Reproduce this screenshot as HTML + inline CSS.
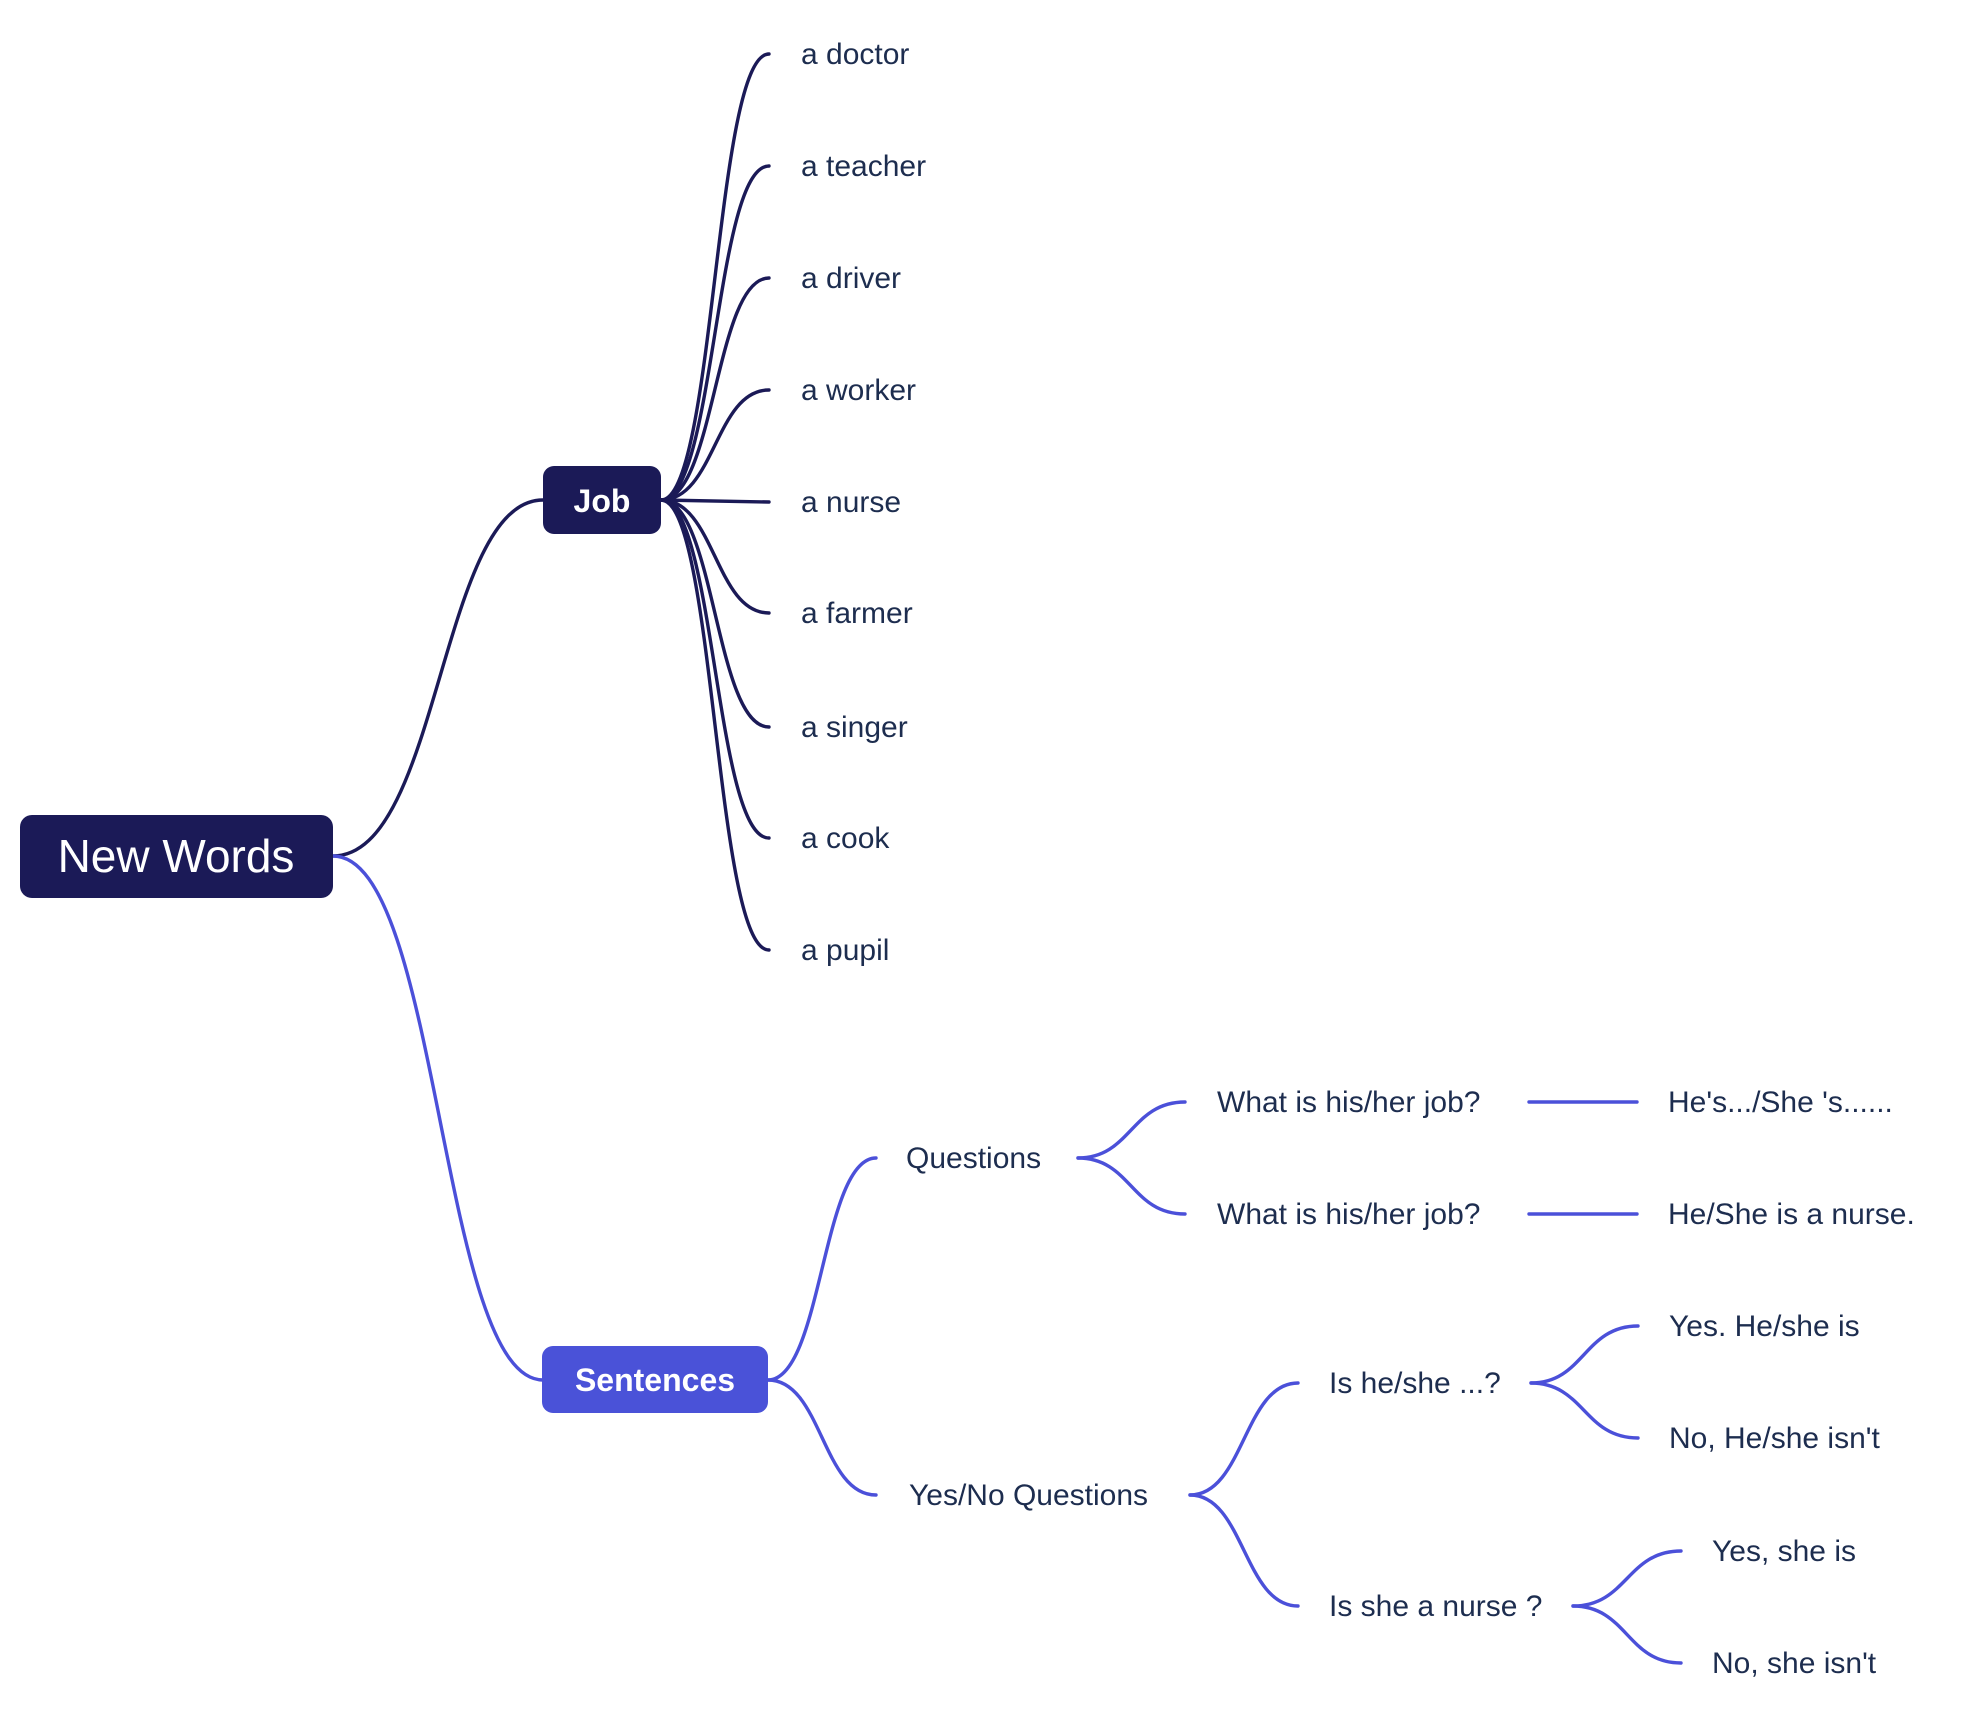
<!DOCTYPE html>
<html><head><meta charset="utf-8"><style>
html,body{margin:0;padding:0;background:#fff}
svg{display:block}
text{font-family:"Liberation Sans",sans-serif}
.l{font-size:30px;fill:#1d2d4f}
</style></head><body>
<svg width="1970" height="1712" viewBox="0 0 1970 1712" xmlns="http://www.w3.org/2000/svg">
<g fill="none" stroke-width="3.4" stroke-linecap="round">
<path d="M333 856 C440 856 440 500 543 500" stroke="#1b1a57"/>
<path d="M333 856 C440 856 440 1380 543 1380" stroke="#4b50d9"/>
<g stroke="#1b1a57">
<path d="M661 500 C715 500 715 54 769 54"/>
<path d="M661 500 C715 500 715 166 769 166"/>
<path d="M661 500 C715 500 715 278 769 278"/>
<path d="M661 500 C715 500 715 390 769 390"/>
<path d="M661 500 L769 502"/>
<path d="M661 500 C715 500 715 613 769 613"/>
<path d="M661 500 C715 500 715 727 769 727"/>
<path d="M661 500 C715 500 715 838 769 838"/>
<path d="M661 500 C715 500 715 950 769 950"/>
</g>
<g stroke="#4b50d9">
<path d="M768 1380 C822 1380 822 1158 876 1158"/>
<path d="M768 1380 C822 1380 822 1495 876 1495"/>
<path d="M1078 1158 C1131 1158 1131 1102 1185 1102"/>
<path d="M1078 1158 C1131 1158 1131 1214 1185 1214"/>
<path d="M1529 1102 L1637 1102"/>
<path d="M1529 1214 L1637 1214"/>
<path d="M1190 1495 C1244 1495 1244 1383 1298 1383"/>
<path d="M1190 1495 C1244 1495 1244 1606 1298 1606"/>
<path d="M1531 1383 C1584 1383 1584 1326 1638 1326"/>
<path d="M1531 1383 C1584 1383 1584 1438 1638 1438"/>
<path d="M1573 1606 C1627 1606 1627 1551 1681 1551"/>
<path d="M1573 1606 C1627 1606 1627 1663 1681 1663"/>
</g>
</g>
<rect x="20" y="815" width="313" height="83" rx="12" fill="#1b1a57"/>
<text x="176" y="872" font-size="46" fill="#fff" text-anchor="middle">New Words</text>
<rect x="543" y="466" width="118" height="68" rx="11" fill="#1b1a57"/>
<text x="602" y="512" font-size="32" font-weight="bold" fill="#fff" text-anchor="middle">Job</text>
<rect x="542" y="1346" width="226" height="67" rx="11" fill="#4a52d8"/>
<text x="655" y="1391" font-size="32" font-weight="bold" fill="#fff" text-anchor="middle">Sentences</text>
<g class="l">
<text class="l" x="801" y="64">a doctor</text>
<text class="l" x="801" y="176">a teacher</text>
<text class="l" x="801" y="288">a driver</text>
<text class="l" x="801" y="400">a worker</text>
<text class="l" x="801" y="512">a nurse</text>
<text class="l" x="801" y="623">a farmer</text>
<text class="l" x="801" y="737">a singer</text>
<text class="l" x="801" y="848">a cook</text>
<text class="l" x="801" y="960">a pupil</text>
<text class="l" x="906" y="1168">Questions</text>
<text class="l" x="909" y="1505">Yes/No Questions</text>
<text class="l" x="1217" y="1112">What is his/her job?</text>
<text class="l" x="1217" y="1224">What is his/her job?</text>
<text class="l" x="1668" y="1112">He's.../She 's......</text>
<text class="l" x="1668" y="1224">He/She is a nurse.</text>
<text class="l" x="1329" y="1393">Is he/she ...?</text>
<text class="l" x="1329" y="1616">Is she a nurse ?</text>
<text class="l" x="1669" y="1336">Yes. He/she is</text>
<text class="l" x="1669" y="1448">No, He/she isn't</text>
<text class="l" x="1712" y="1561">Yes, she is</text>
<text class="l" x="1712" y="1673">No, she isn't</text>
</g>
</svg>
</body></html>
